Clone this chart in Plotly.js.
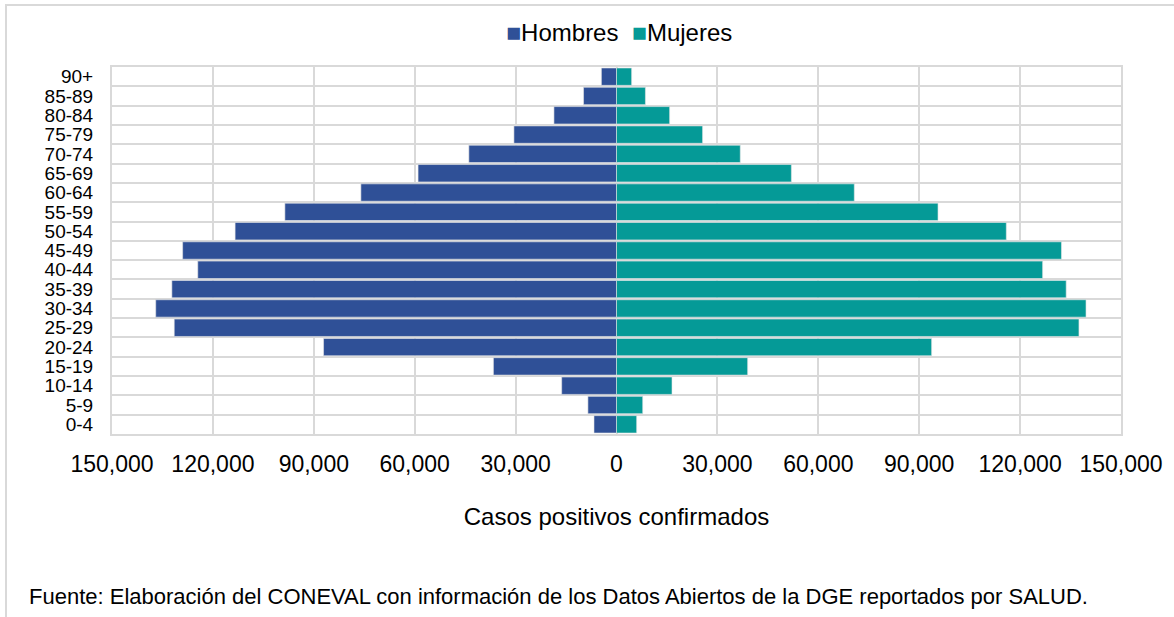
<!DOCTYPE html>
<html>
<head>
<meta charset="utf-8">
<script src="https://cdn.plot.ly/plotly-3.0.1.min.js"></script>
<style>
  html, body { margin: 0; padding: 0; background: #ffffff; }
  #frame { position: absolute; left: 5px; top: 4px; width: 1300px; height: 700px;
           border-left: 2px solid #d9d9d9; border-top: 2px solid #d9d9d9; }
  #chart { position: absolute; left: 0; top: 0; width: 1174px; height: 617px; }
</style>
</head>
<body>
<div id="frame"></div>
<div id="chart"></div>
<script>
// Age groups, bottom to top
const ageGroups = ["0-4","5-9","10-14","15-19","20-24","25-29","30-34","35-39","40-44","45-49",
                   "50-54","55-59","60-64","65-69","70-74","75-79","80-84","85-89","90+"];
// Confirmed positive cases
const hombres = [6700, 8500, 16300, 36600, 87100, 131500, 137000, 132200, 124500, 129000,
                 113400, 98600, 76000, 59000, 43900, 30500, 18600, 9800, 4500];
const mujeres = [6000, 7800, 16500, 39000, 93700, 137500, 139600, 133700, 126700, 132300,
                 115900, 95600, 70700, 52000, 36800, 25600, 15800, 8600, 4500];
const xTickVals = [-150000, -120000, -90000, -60000, -30000, 0, 30000, 60000, 90000, 120000, 150000];
const xTickText = ["150,000","120,000","90,000","60,000","30,000","0","30,000","60,000","90,000","120,000","150,000"];
const seriesNames = ["Hombres", "Mujeres"];
const seriesColors = ["#2F5097", "#059A97"];
const xTitle = "Casos positivos confirmados";
const sourceNote = "Fuente: Elaboración del CONEVAL con información de los Datos Abiertos de la DGE reportados por SALUD.";

const idx = ageGroups.map((_, i) => i);
const FONT = "Liberation Sans, Arial, sans-serif";
const GRID = "#d9d9d9";

const traces = [
  {
    type: "bar", orientation: "h", name: seriesNames[0],
    y: idx, x: hombres.map(v => -v),
    marker: { color: seriesColors[0], line: { color: "#e6e6e6", width: 0.6 } },
    hoverinfo: "skip"
  },
  {
    type: "bar", orientation: "h", name: seriesNames[1],
    y: idx, x: mujeres,
    marker: { color: seriesColors[1], line: { color: "#e6e6e6", width: 0.6 } },
    hoverinfo: "skip"
  }
];

// Legend drawn as a compact text line (square markers hug the labels as in the source)
const legendText = seriesNames.map((n, i) =>
  '<span style="color:' + seriesColors[i] + ';font-size:25px">■</span>' + n).join('  ');

const layout = {
  width: 1174, height: 617,
  margin: { l: 112, r: 53, t: 67, b: 183 },
  paper_bgcolor: "rgba(0,0,0,0)",
  plot_bgcolor: "#ffffff",
  barmode: "overlay",
  bargap: 0.1,
  font: { family: FONT, color: "#000000" },
  showlegend: false,
  xaxis: {
    range: [-150000, 150000],
    tickmode: "array", tickvals: xTickVals, ticktext: xTickText,
    tickfont: { size: 23, family: FONT },
    showgrid: true, gridcolor: GRID, gridwidth: 2,
    zeroline: true, zerolinecolor: GRID, zerolinewidth: 2,
    showline: true, mirror: true, linecolor: GRID, linewidth: 2,
    ticks: "", ticklabelstandoff: 8,
    automargin: false, fixedrange: true,
    title: { text: xTitle, font: { size: 24, family: FONT }, standoff: 33 }
  },
  yaxis: {
    range: [-0.5, ageGroups.length - 0.5],
    tickmode: "array", tickvals: idx, ticktext: ageGroups,
    tickfont: { size: 19, family: FONT },
    showgrid: false, zeroline: false,
    showline: true, mirror: true, linecolor: GRID, linewidth: 2,
    ticks: "", ticklabelstandoff: 13,
    minor: { tickmode: "linear", tick0: 0.5, dtick: 1, showgrid: true, gridcolor: GRID, gridwidth: 2, ticks: "" },
    automargin: false, fixedrange: true
  },
  annotations: [
    {
      xref: "paper", yref: "paper", x: 0.502, y: (434 - 32) / 367,
      xanchor: "center", yanchor: "middle", showarrow: false,
      text: legendText, font: { size: 24, family: FONT, color: "#000000" }
    },
    {
      xref: "paper", yref: "paper", x: (27 - 112) / 1009, y: (434 - 596) / 367,
      xanchor: "left", yanchor: "middle", showarrow: false,
      text: sourceNote, font: { size: 22, family: FONT, color: "#000000" }
    }
  ]
};

Plotly.newPlot("chart", traces, layout, { displayModeBar: false, staticPlot: true });
</script>
</body>
</html>
